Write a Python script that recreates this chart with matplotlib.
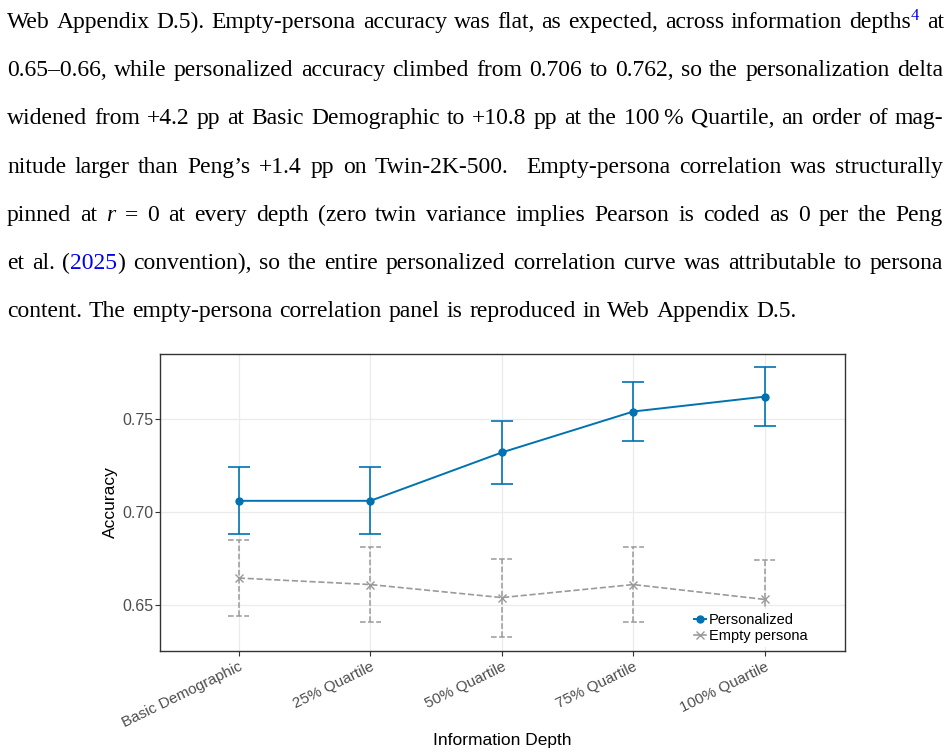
import re
import matplotlib
matplotlib.use("Agg")
import matplotlib.pyplot as plt
from matplotlib.lines import Line2D
import numpy as np

# paragraph above the figure ({^x} = blue superscript, {b:x} = blue, {i:x} = italic)
para_lines = [
    "Web Appendix D.5). Empty-persona accuracy was flat, as expected, across information depths{^4} at",
    "0.65\u20130.66, while personalized accuracy climbed from 0.706 to 0.762, so the personalization delta",
    "widened from +4.2 pp at Basic Demographic to +10.8 pp at the 100\u2009% Quartile, an order of mag-",
    "nitude larger than Peng\u2019s +1.4 pp on Twin-2K-500.  Empty-persona correlation was structurally",
    "pinned at {i:r} = 0 at every depth (zero twin variance implies Pearson is coded as 0 per the Peng",
    "et al. ({b:2025}) convention), so the entire personalized correlation curve was attributable to persona",
    "content. The empty-persona correlation panel is reproduced in Web Appendix D.5.",
]

# chart data
depths = ["Basic Demographic", "25% Quartile", "50% Quartile", "75% Quartile", "100% Quartile"]
pers_acc = [0.706, 0.706, 0.732, 0.754, 0.762]
pers_lo = [0.688, 0.688, 0.715, 0.738, 0.746]
pers_hi = [0.724, 0.724, 0.749, 0.770, 0.778]
empty_acc = [0.6645, 0.661, 0.654, 0.661, 0.653]
empty_lo = [0.644, 0.641, 0.633, 0.641, 0.632]
empty_hi = [0.685, 0.681, 0.675, 0.681, 0.674]

W, H = 950, 756
fig = plt.figure(figsize=(W / 100, H / 100), dpi=100)
renderer = fig.canvas.get_renderer()

serif = ["Liberation Serif", "DejaVu Serif"]
fs = 17
left_px, right_px, last_right_px = 7, 943, 797
base0, line_step = 28, 48.2


def seg_style(kind):
    kw = dict(fontsize=fs, family=serif, color="black")
    if kind == "i":
        kw["style"] = "italic"
    elif kind == "b":
        kw["color"] = "#0000ee"
    elif kind == "^":
        kw["color"] = "#0000ee"
        kw["fontsize"] = fs * 0.7
    return kw


def parse_word(word):
    segs = []
    for part in re.split(r"(\{[^}]*\})", word):
        if not part:
            continue
        m = re.match(r"\{(\^|b:|i:)(.*)\}", part)
        if m:
            segs.append((m.group(2), m.group(1)[0]))
        else:
            segs.append((part, "n"))
    return segs


def measure(s, kw):
    t = fig.text(0, 0, s, **kw)
    w = t.get_window_extent(renderer).width
    t.remove()
    return w


for i, line in enumerate(para_lines):
    pieces = re.split(r"( +)", line)
    words = [parse_word(p) for p in pieces[0::2]]
    gaps = [len(g) for g in pieces[1::2]]
    widths = [[measure(s, seg_style(k)) for s, k in w] for w in words]
    total = sum(sum(w) for w in widths)
    end = last_right_px if i == len(para_lines) - 1 else right_px
    unit = (end - left_px - total) / sum(gaps)
    xpos = left_px
    base = base0 + i * line_step
    for j, (w, ws) in enumerate(zip(words, widths)):
        for (s, k), sw in zip(w, ws):
            y = base - (8 if k == "^" else 0)
            fig.text(xpos / W, 1 - y / H, s, va="baseline", ha="left", **seg_style(k))
            xpos += sw + (1 if k == "^" else 0)
        if j < len(gaps):
            xpos += unit * gaps[j]

# chart
blue = "#0072B2"
grey = "#9a9a9a"
sans = ["Liberation Sans", "DejaVu Sans"]

ax = fig.add_axes([160 / W, 1 - 651 / H, 685 / W, 297 / H])
x = np.arange(len(depths))

pa = np.array(pers_acc)
ax.errorbar(x, pa, yerr=[pa - np.array(pers_lo), np.array(pers_hi) - pa],
            fmt="none", ecolor=blue, capsize=8, capthick=1.2,
            elinewidth=1.2, zorder=4)
ax.plot(x, pa, color=blue, lw=1.4, marker="o", ms=5, zorder=4)

ax.plot(x, empty_acc, color=grey, ls="--", lw=1.2, marker="x", ms=6, zorder=3)
ax.vlines(x, empty_lo, empty_hi, color=grey, ls="--", lw=1.1, zorder=3)
ax.hlines(empty_lo, x - 0.08, x + 0.08, color=grey, ls="--", lw=1.1, zorder=3)
ax.hlines(empty_hi, x - 0.08, x + 0.08, color=grey, ls="--", lw=1.1, zorder=3)

ax.set_xlim(-0.6, 4.61)
ax.set_ylim(0.6253, 0.7849)
ax.set_yticks([0.65, 0.70, 0.75])
ax.set_yticklabels(["0.65", "0.70", "0.75"])
ax.set_xticks(x)
ax.set_xticklabels(depths, rotation=26, ha="right", rotation_mode="anchor",
                   family=sans, fontsize=11, color="#4d4d4d")
for lab in ax.get_yticklabels():
    lab.set_family(sans)
    lab.set_fontsize(11.5)
    lab.set_color("#4d4d4d")

ax.grid(True, color="#ebebeb", lw=0.9)
ax.set_axisbelow(True)
for sp in ax.spines.values():
    sp.set_color("#333333")
    sp.set_linewidth(1.0)
ax.tick_params(length=3.5, width=0.8, color="#333333")
ax.tick_params(axis="y", pad=1.5)
ax.tick_params(axis="x", pad=3)

ax.set_ylabel("Accuracy", family=sans, fontsize=12.5, labelpad=3)
ax.set_xlabel("Information Depth", family=sans, fontsize=12.5)
ax.xaxis.set_label_coords(0.5, -0.275)

handles = [
    Line2D([], [], color=blue, lw=1.4, marker="o", ms=5),
    Line2D([], [], color=grey, lw=1.2, marker="x", ms=6),
]
ax.legend(handles, ["Personalized", "Empty persona"], loc="lower right",
          bbox_to_anchor=(0.962, -0.012), frameon=True, fancybox=False,
          edgecolor="none", framealpha=1, prop={"family": sans, "size": 10.5},
          handlelength=0.8, handletextpad=0.2, labelspacing=0.1, borderpad=0.3)

fig.savefig("out.png", dpi=100)
